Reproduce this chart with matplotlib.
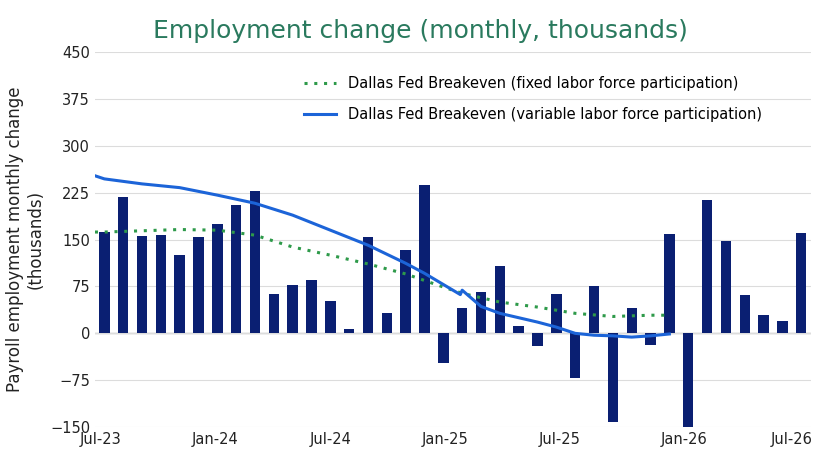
import matplotlib
matplotlib.use("Agg")
import matplotlib.pyplot as plt
import numpy as np

bars = [162,218,155,158,126,154,175,206,228,63,77,86,52,7,154,32,134,237,-48,
        41,66,108,12,-21,63,-71,75,-141,40,-18,159,-151,214,148,62,30,20,161]
line_idx = [-0.5,0,2,4,6,8,10,12,14,16,17,18.9,19,20,21,22,23,24,25,26,27,28,29,30]
variable = [252,247,239,233,221,208,189,165,141,112,96,62,69,43,32,25,18,10,0,-3,-4,-6,-4,-1]
fixed_idx = [-0.5,0,4,6,8,10,12,14,16,18,19,21,23,25,27,29,30]
fixed = [162,162,166,165,157,138,125,111,95,74,64,50,42,32,27,29,29]
tick_pos = [-0.2,5.9,12,18.1,24.2,30.8,36.5]
tick_labels = ["Jul-23","Jan-24","Jul-24","Jan-25","Jul-25","Jan-26","Jul-26"]

fig = plt.figure(figsize=(8.4,4.72), dpi=100)
ax = fig.add_axes([0.113, 0.095, 0.852, 0.795])
x = np.arange(len(bars))
ax.bar(x, bars, width=0.55, color="#0a1f72", zorder=2)
ax.plot(fixed_idx, fixed, color="#2e9a4a", lw=2.2, ls=(0,(1,2.2)), zorder=3,
        label="Dallas Fed Breakeven (fixed labor force participation)")
ax.plot(line_idx, variable, color="#1c64d8", lw=2.2, zorder=3,
        label="Dallas Fed Breakeven (variable labor force participation)")
ax.set_ylim(-150,450)
ax.set_yticks(range(-150,451,75))
ax.set_xlim(-0.5,37.5)
ax.set_xticks(tick_pos)
ax.set_xticklabels(tick_labels)
ax.grid(axis="y", color="#dcdcdc", lw=0.8, zorder=0)
ax.axhline(0, color="#888888", lw=0.9, zorder=1)
for s in ax.spines.values():
    s.set_visible(False)
ax.tick_params(length=0, labelsize=10.5, colors="#222222")
ax.set_ylabel("Payroll employment monthly change\n(thousands)", fontsize=12, color="#222222")
ax.legend(loc="upper right", bbox_to_anchor=(0.95,0.97), frameon=False, fontsize=10.5,
          handlelength=2.2, labelspacing=1.1)
fig.text(0.5, 0.935, "Employment change (monthly, thousands)", ha="center", va="center",
         fontsize=18, color="#2a7a5e")
fig.savefig("out.png", dpi=100)
